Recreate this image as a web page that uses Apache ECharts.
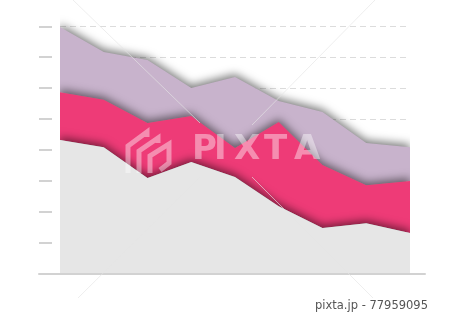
<!DOCTYPE html>
<html><head><meta charset="utf-8">
<script src="https://cdn.jsdelivr.net/npm/echarts@6/dist/echarts.min.js"></script>
<style>html,body{margin:0;padding:0;background:#fff}#c{width:450px;height:317px}</style>
</head><body><div id="c"></div>
<script>
// Data
const categories = ['1','2','3','4','5','6','7','8','9'];
const baseValues   = [4.32, 4.09, 3.09, 3.61, 3.12, 2.18, 1.47, 1.63, 1.31];
const middleValues = [1.55, 1.53, 1.78, 1.49, 0.94, 2.72, 2.04, 1.23, 1.68];
const topValues    = [2.11, 1.55, 2.04, 0.90, 2.30, 0.68, 1.72, 1.36, 1.10];
const yMin = 0, yMaxTicks = 8, yStep = 1;
const watermarkLetters = ['P','I','X','T','A'];
const footerText = 'pixta.jp - 77959095';

const chart = echarts.init(document.getElementById('c'), null, {renderer: 'canvas'});

const shadow = {shadowBlur: 9, shadowColor: 'rgba(0,0,0,0.5)', shadowOffsetY: -3};
function areaSeries(name, data, color, z) {
  return {
    name, type: 'line', stack: 'all', data, xAxisIndex: 0, yAxisIndex: 0,
    showSymbol: false, symbol: 'none', z,
    lineStyle: {width: 0},
    areaStyle: Object.assign({color, opacity: 1}, shadow),
    emphasis: {disabled: true}
  };
}

const letterX = [204, 226, 246, 276, 306];
const graphics = watermarkLetters.map((ch, i) => ({
  type: 'text', z: 100, left: letterX[i] - 12, top: 133,
  style: {text: ch, x: 0, y: 0, font: 'bold 34px "DejaVu Sans"', fill: 'rgba(255,255,255,0.42)'}
}));
graphics.push({
  type: 'text', z: 100, left: 315, top: 300,
  style: {text: footerText, font: '11.5px "DejaVu Sans"', fill: '#555'}
});
const diag = [[73,0,200,123],[375,0,252,125],[200,177,78,298],[252,177,373,298]];
diag.forEach(d => graphics.push({
  type: 'line', z: 99, shape: {x1: d[0], y1: d[1], x2: d[2], y2: d[3]},
  style: {stroke: 'rgba(228,228,228,0.8)', lineWidth: 0.8}
}));
const logo = [
  [[128,173],[128,146],[147,132],[147,137]],
  [[139,173],[139,151],[158,138],[158,143]],
  [[150,173],[150,156],[169,144],[169,163],[160,170]]
];
logo.forEach(p => graphics.push({
  type: 'polyline', z: 99, shape: {points: p},
  style: {stroke: 'rgba(255,255,255,0.42)', lineWidth: 5, fill: null}
}));

chart.setOption({
  animation: false,
  backgroundColor: '#fff',
  grid: [
    {left: 60, right: 40, top: 5, bottom: 43.5},
    {left: 39, right: 25, top: 26.3, bottom: 43.5}
  ],
  xAxis: [
    {gridIndex: 0, type: 'category', data: categories, boundaryGap: false, show: false},
    {gridIndex: 1, type: 'value', min: 0, max: 1, z: 10,
     axisLine: {show: true, lineStyle: {color: '#d2d2d2', width: 2}},
     axisTick: {show: false}, axisLabel: {show: false}, splitLine: {show: false}}
  ],
  yAxis: [
    {gridIndex: 0, type: 'value', min: yMin, max: 8.69, interval: yStep,
     axisLine: {show: false}, axisTick: {show: false}, axisLabel: {show: false},
     splitLine: {show: true, showMinLine: false, showMaxLine: false,
                 lineStyle: {color: '#dcdcdc', type: [6, 4], width: 1}}},
    {gridIndex: 1, type: 'value', min: yMin, max: yMaxTicks, interval: yStep,
     axisLine: {show: false}, axisLabel: {show: false}, splitLine: {show: false},
     axisTick: {show: true, inside: true, length: 13, lineStyle: {color: '#c4c4c4', width: 1.5}}}
  ],
  series: [
    areaSeries('base', baseValues, '#e6e6e6', 4),
    areaSeries('middle', middleValues, '#ee3b77', 3),
    areaSeries('top', topValues, '#c8b3cc', 2)
  ],
  graphic: graphics
});
</script>
</body></html>
